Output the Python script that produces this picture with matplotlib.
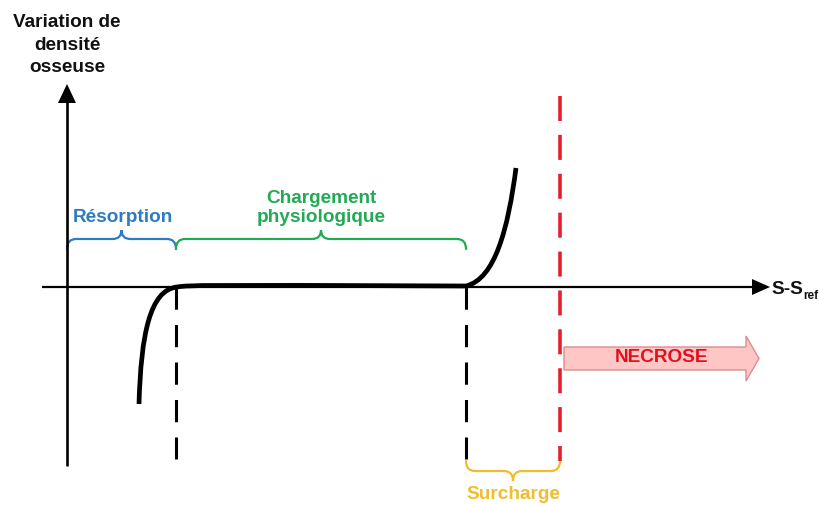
import matplotlib
matplotlib.use("Agg")
import matplotlib.pyplot as plt
from matplotlib.path import Path
from matplotlib.patches import PathPatch, Polygon, FancyArrow

plt.rcParams['font.family'] = ['Liberation Sans', 'DejaVu Sans']

# ---- data (schematic, in pixel units of the reference) ----
# Curve control points (cubic Bezier segments)
curve_left_x = [139, 141, 150, 177]
curve_left_y = [405, 335, 291, 288]
curve_mid_x = [177, 190, 200, 466]
curve_mid_y = [288, 286, 286, 287]
curve_right_x = [466, 495, 508, 516]
curve_right_y = [287, 280, 230, 169]

# Zone boundaries on the x axis
bound_resorption = 67
bound_physio = 176
bound_surcharge = 466
bound_necrose = 560

zone_labels = ["Résorption", "Chargement\nphysiologique", "Surcharge"]
zone_colors = ["#2f7bc2", "#22aa55", "#f2bd2c"]

y_label = "Variation de\ndensité\nosseuse"
x_label_main = "S-S"
x_label_sub = "ref"
necrose_label = "NECROSE"

# ---- figure ----
fig = plt.figure(figsize=(8.19, 5.06), dpi=100)
ax = fig.add_axes([0, 0, 1, 1])
ax.set_xlim(0, 819)
ax.set_ylim(506, 0)
ax.axis('off')

X0, Y0 = 67, 288  # origin

# axes lines + arrowheads
ax.plot([X0, X0], [467, 100], color='black', lw=1.9, solid_capstyle='butt')
ax.add_patch(Polygon([[58, 104], [76, 104], [67, 85]], closed=True, color='black', lw=0))
ax.plot([42, 755], [Y0, Y0], color='black', lw=1.6, solid_capstyle='butt')
ax.add_patch(Polygon([[752, 280], [752, 296], [770, 288]], closed=True, color='black', lw=0))

# curve
def bez(xs, ys):
    return list(zip(xs, ys)), [Path.MOVETO, Path.CURVE4, Path.CURVE4, Path.CURVE4]

verts, codes = [], []
for xs, ys in [(curve_left_x, curve_left_y), (curve_mid_x, curve_mid_y), (curve_right_x, curve_right_y)]:
    v, c = bez(xs, ys)
    if verts:
        v, c = v[1:], c[1:]
    verts += v
    codes += c
ax.add_patch(PathPatch(Path(verts, codes), fill=False, lw=3.4, edgecolor='black',
                       capstyle='butt', joinstyle='round'))

# dashed verticals
lw_b = 2.2
ax.plot([bound_physio, bound_physio], [Y0, 460], color='black', lw=lw_b,
        linestyle=(0, (16 / lw_b, 11 / lw_b)))
ax.plot([bound_surcharge, bound_surcharge], [Y0, 460], color='black', lw=lw_b,
        linestyle=(0, (16 / lw_b, 11 / lw_b)))
lw_r = 2.6
ax.plot([bound_necrose, bound_necrose], [97, 462], color='#e3202c', lw=lw_r,
        linestyle=(0, (18 / lw_r, 10 / lw_r)))

# braces
def brace(x1, x2, y_line, y_end, y_peak, color, r=9):
    xm = (x1 + x2) / 2
    verts = [(x1, y_end), (x1, y_line), (x1 + r, y_line),
             (xm - r, y_line), (xm, y_line), (xm, y_peak),
             (xm, y_line), (xm + r, y_line),
             (x2 - r, y_line), (x2, y_line), (x2, y_end)]
    codes = [Path.MOVETO, Path.CURVE3, Path.CURVE3,
             Path.LINETO, Path.CURVE3, Path.CURVE3,
             Path.CURVE3, Path.CURVE3,
             Path.LINETO, Path.CURVE3, Path.CURVE3]
    ax.add_patch(PathPatch(Path(verts, codes), fill=False, lw=1.6, edgecolor=color,
                           capstyle='round'))

brace(bound_resorption, bound_physio, 240, 250, 231, zone_colors[0])
brace(bound_physio, bound_surcharge, 240, 250, 231, zone_colors[1])
brace(bound_surcharge, bound_necrose, 472, 462, 482, zone_colors[2])

fs = 13.7
ax.text((bound_resorption + bound_physio) / 2 + 1, 217, zone_labels[0], color=zone_colors[0],
        fontsize=fs, fontweight='bold', ha='center', va='center')
ax.text((bound_physio + bound_surcharge) / 2, 208, zone_labels[1], color=zone_colors[1],
        fontsize=fs, fontweight='bold', ha='center', va='center', linespacing=1.2)
ax.text((bound_surcharge + bound_necrose) / 2, 495, zone_labels[2], color=zone_colors[2],
        fontsize=fs, fontweight='bold', ha='center', va='center')

# axis labels
ax.text(X0, 45, y_label, fontsize=fs, fontweight='bold', ha='center', va='center',
        linespacing=1.45, color='#111111')
ax.text(771, 289, x_label_main, fontsize=fs, fontweight='bold', ha='left', va='center',
        color='#111111')
ax.text(803, 296, x_label_sub, fontsize=8.5, fontweight='bold', ha='left', va='center',
        color='#111111')

# NECROSE arrow
ax.add_patch(FancyArrow(564, 359.5, 195, 0, width=23, head_width=45, head_length=13,
                        length_includes_head=True, facecolor='#ffc6c6', edgecolor='#dc8c8c',
                        lw=1.0))
ax.text(662, 358, necrose_label, color='#e0101e', fontsize=fs, fontweight='bold',
        ha='center', va='center')

fig.savefig('out.png', dpi=100)
